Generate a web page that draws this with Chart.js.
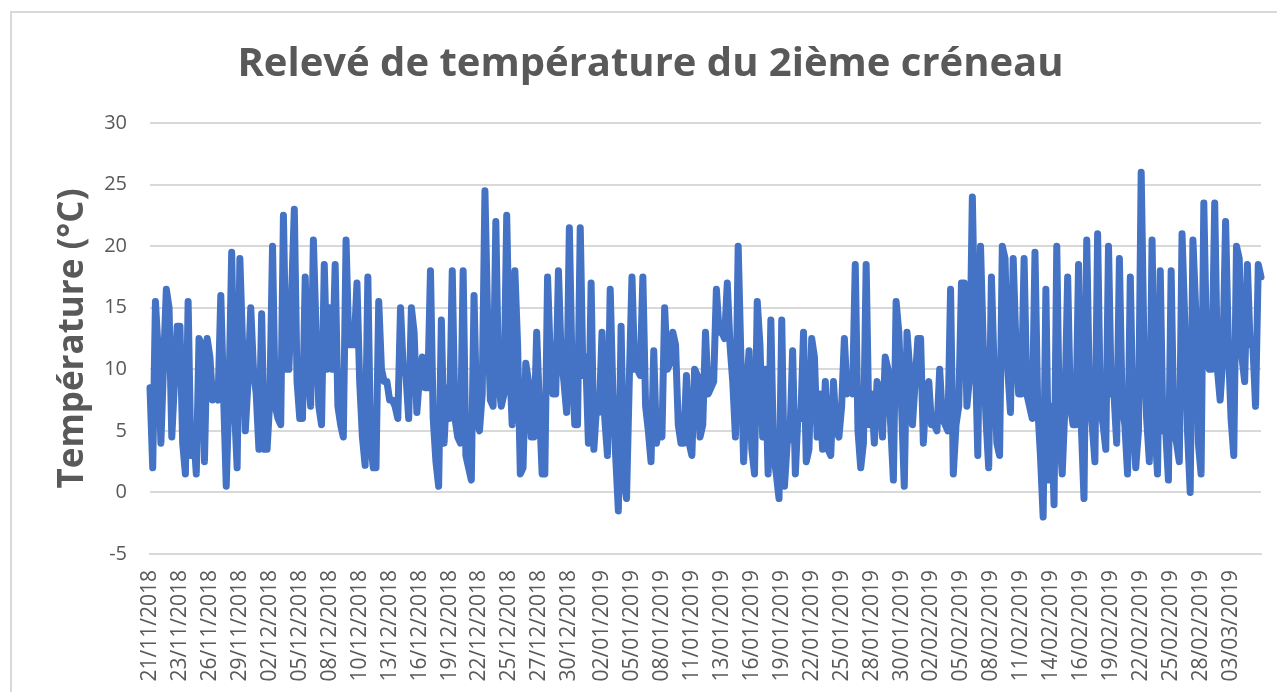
<!DOCTYPE html>
<html>
<head>
<meta charset="utf-8">
<script src="https://cdn.jsdelivr.net/npm/chart.js@4"></script>
<style>
    html, body { margin: 0; background: #fff; overflow: hidden; }
    #frame { position: absolute; left: 10px; top: 11px; right: 0; bottom: 0; border-left: 2px solid #d9d9d9; border-top: 2px solid #d9d9d9; }
    #temperatureChart { position: absolute; left: 0; top: 0; }
</style>
</head>
<body>
<div id="frame"></div>
<canvas id="temperatureChart" width="1277" height="692"></canvas>
<script>
const chartTitle = 'Relevé de température du 2ième créneau';
const yAxisTitle = 'Température (°C)';

// Date shown under the axis, one label for about every 11 readings
const tickDates = [
    '21/11/2018', '23/11/2018', '26/11/2018', '29/11/2018', '02/12/2018', '05/12/2018',
    '08/12/2018', '10/12/2018', '13/12/2018', '16/12/2018', '19/12/2018', '22/12/2018',
    '25/12/2018', '27/12/2018', '30/12/2018', '02/01/2019', '05/01/2019', '08/01/2019',
    '11/01/2019', '13/01/2019', '16/01/2019', '19/01/2019', '22/01/2019', '25/01/2019',
    '28/01/2019', '30/01/2019', '02/02/2019', '05/02/2019', '08/02/2019', '11/02/2019',
    '14/02/2019', '16/02/2019', '19/02/2019', '22/02/2019', '25/02/2019', '28/02/2019',
    '03/03/2019'
];

// Readings
const temperatures = [
    8.5, 2, 15.5, 11.5, 4, 10.5, 16.5, 15, 4.5, 9, 13.5,
    13.5, 4, 1.5, 15.5, 3, 5, 1.5, 12.5, 12, 2.5, 12.5,
    11, 7.5, 8, 7.5, 16, 8, 0.5, 8, 19.5, 7, 2,
    19, 12, 5, 9, 15, 10, 8, 3.5, 14.5, 3.5, 3.5,
    7.5, 20, 7, 6, 5.5, 22.5, 10, 10, 16, 23, 9,
    6, 6, 17.5, 10, 7, 20.5, 13, 7, 5.5, 18.5, 10,
    15, 10, 18.5, 7, 5.5, 4.5, 20.5, 12, 12, 12, 17,
    9, 4.5, 2.2, 17.5, 4, 2, 2, 15.5, 10, 9, 9,
    7.5, 7.5, 7, 6, 15, 10, 9.5, 6, 15, 13, 6.5,
    9.5, 11, 8.5, 8.5, 18, 6, 2.5, 0.5, 14, 4, 8.5,
    6, 18, 6, 4.5, 4, 18, 3, 2, 1, 16, 6,
    5, 8, 24.5, 14, 7.5, 7, 22, 9, 7, 8, 22.5,
    11, 5.5, 18, 12, 1.5, 2, 10.5, 9, 4.5, 4.5, 13,
    7, 1.5, 1.5, 17.5, 11, 8, 8, 18, 11, 9, 6.5,
    21.5, 10, 5.5, 5.5, 21.5, 9.5, 11, 4, 17, 3.5, 7,
    6.5, 13, 6, 3, 16.5, 8, 3, -1.5, 13.5, 1, -0.5,
    9, 17.5, 10, 10, 9.5, 17.5, 7, 5, 2.5, 11.5, 4,
    5.5, 4.5, 15, 10, 10.5, 13, 12, 5.5, 4, 4, 9.5,
    4, 3, 10, 9.5, 4.5, 5.5, 13, 8, 8.5, 9, 16.5,
    13, 13, 12.5, 17, 12, 9, 4.5, 20, 11, 2.5, 8,
    11.5, 3.5, 1.5, 15.5, 12, 4.5, 10, 1.5, 14, 3, 1.5,
    -0.5, 14, 0.5, 4, 4.5, 11.5, 1.5, 6.5, 6, 13, 2.5,
    3.5, 12.5, 11, 4.5, 8, 3.5, 9, 3.5, 3, 9, 5,
    4.5, 7, 12.5, 8, 8.5, 8, 18.5, 5, 2, 4, 18.5,
    5.5, 8, 4, 9, 8, 4.5, 11, 10, 5.5, 1, 15.5,
    13, 7, 0.5, 13, 10, 5.5, 9, 12.5, 12.5, 4, 8,
    9, 5.5, 5.5, 5, 10, 6, 5.5, 5, 16.5, 1.5, 5.5,
    7, 17, 17, 7, 9.5, 24, 12, 3, 20, 12, 6,
    2, 17.5, 10, 4, 3, 20, 19, 10, 6.5, 19, 12,
    8, 8, 19, 8, 7, 6, 19.5, 7, 3, -2, 16.5,
    1, 7, -1, 20, 5, 1.5, 7, 17.5, 7, 5.5, 5.5,
    18.5, 5.5, -0.5, 20.5, 8, 5.5, 2.5, 21, 7, 5.5, 3.5,
    20, 8, 8, 4, 19, 7, 5.5, 1.5, 17.5, 6, 2,
    5, 26, 12, 6, 2.5, 20.5, 5.5, 1.5, 18, 5, 5,
    1, 18, 5, 4, 2.5, 21, 14, 5, 0, 20.5, 15,
    4, 1.5, 23.5, 12, 10, 10, 23.5, 10, 7.5, 11, 22,
    12, 6, 3, 20, 19, 11, 9, 18.5, 12, 12, 7,
    18.5, 17.5
];

const TICK_STEP = 11.035;
const labels = temperatures.map(() => '');
tickDates.forEach((date, n) => {
    labels[Math.round(n * TICK_STEP)] = date;
});

const textColor = '#595959';
const gridColor = '#d9d9d9';
const fontFamily = '"Open Sans", sans-serif';

new Chart(document.getElementById('temperatureChart').getContext('2d'), {
    type: 'line',
    data: {
        labels: labels,
        datasets: [{
            data: temperatures,
            borderColor: '#4472c4',
            borderWidth: 7,
            borderJoinStyle: 'round',
            borderCapStyle: 'round',
            pointRadius: 0,
            tension: 0,
            clip: false
        }]
    },
    options: {
        responsive: false,
        animation: false,
        layout: { padding: { left: 40, right: 16, top: 0, bottom: 0 } },
        plugins: {
            legend: { display: false },
            tooltip: { enabled: false },
            title: {
                display: true,
                text: chartTitle,
                color: textColor,
                font: { family: fontFamily, size: 40, weight: '700' },
                padding: { top: 41, bottom: 34 }
            }
        },
        scales: {
            x: {
                type: 'category',
                offset: false,
                afterFit: scale => {
                    scale.height = 138;
                    scale.paddingLeft = 0;
                    scale.paddingRight = 0;
                },
                grid: { display: false },
                border: { color: gridColor, width: 2 },
                ticks: {
                    autoSkip: false,
                    minRotation: 90,
                    maxRotation: 90,
                    padding: 8,
                    color: textColor,
                    font: { family: fontFamily, size: 21 },
                    callback: (value, index) => labels[index]
                }
            },
            y: {
                min: -5,
                max: 30,
                afterFit: scale => {
                    scale.width = 110;
                    scale.paddingTop = 0;
                    scale.paddingBottom = 0;
                },
                grid: { color: gridColor, lineWidth: 2, drawTicks: false },
                border: { display: false },
                ticks: {
                    stepSize: 5,
                    padding: 23,
                    color: textColor,
                    font: { family: fontFamily, size: 20 }
                },
                title: {
                    display: true,
                    text: yAxisTitle,
                    color: textColor,
                    font: { family: fontFamily, size: 35, weight: '700' },
                    padding: { top: 12, bottom: 0 }
                }
            }
        }
    }
});
</script>
</body>
</html>
